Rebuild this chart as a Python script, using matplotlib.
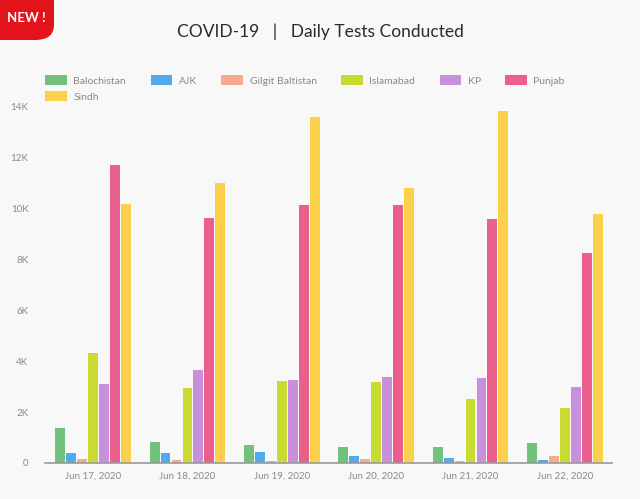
import numpy as np
import matplotlib
matplotlib.use('Agg')
import matplotlib.pyplot as plt
from matplotlib.patches import FancyBboxPatch

dates = ['Jun 17, 2020', 'Jun 18, 2020', 'Jun 19, 2020',
         'Jun 20, 2020', 'Jun 21, 2020', 'Jun 22, 2020']
regions = ['Balochistan', 'AJK', 'Gilgit Baltistan', 'Islamabad', 'KP', 'Punjab', 'Sindh']

balochistan = [1375, 825, 700, 630, 640, 770]
ajk = [390, 390, 430, 270, 200, 100]
gilgit = [160, 120, 80, 150, 80, 270]
islamabad = [4320, 2950, 3220, 3200, 2500, 2150]
kp = [3100, 3650, 3260, 3380, 3350, 3000]
punjab = [11720, 9630, 10140, 10140, 9580, 8270]
sindh = [10180, 11000, 13600, 10800, 13850, 9800]

colors = ['#72c27e', '#52a9ec', '#f8aa8e', '#c9da30', '#c98fda', '#eb5f8d', '#fdd04b']
bg = '#f8f8f8'

plt.rcParams['font.family'] = ['Lato', 'DejaVu Sans']

fig = plt.figure(figsize=(6.4, 4.99), dpi=100, facecolor=bg)
ax = fig.add_axes([45 / 640, 36 / 499, 567 / 640, 356 / 499])
ax.set_facecolor(bg)

series = [balochistan, ajk, gilgit, islamabad, kp, punjab, sindh]
x = np.arange(len(dates))
slot = 0.116
handles = []
for i, (vals, c) in enumerate(zip(series, colors)):
    b = ax.bar(x + (i - 3) * slot, vals, width=0.104, color=c, label=regions[i])
    handles.append(b)

ax.set_xlim(-0.51, 5.5)
ax.set_ylim(0, 14000)
ax.set_yticks(np.arange(0, 14001, 2000))
ax.set_yticklabels(['0'] + ['%dK' % v for v in range(2, 15, 2)])
ax.set_xticks(x)
ax.set_xticklabels(dates)
ax.tick_params(axis='both', length=0, labelsize=7, labelcolor='#8a8a8a')
ax.tick_params(axis='y', pad=12)
ax.tick_params(axis='x', pad=6)
for s in ['top', 'right', 'left']:
    ax.spines[s].set_visible(False)
ax.spines['bottom'].set_color('#9a9a9a')
ax.spines['bottom'].set_linewidth(1.2)

# legend: 6 columns, Sindh wraps to second row under Balochistan
order = [0, 6, 1, 2, 3, 4, 5]
fig.legend([handles[i] for i in order], [regions[i] for i in order],
           loc='upper left', bbox_to_anchor=(36 / 640, 1 - 66 / 499),
           ncol=6, frameon=False, fontsize=7.5, labelcolor='#8a8a8a',
           handlelength=2.1, handleheight=1.1, handletextpad=0.6,
           columnspacing=2.35, labelspacing=0.5)

fig.text(0.5, 1 - 32 / 499, 'COVID-19   |   Daily Tests Conducted',
         ha='center', va='center', fontsize=12.5, color='#2b2b2b')

# red "NEW !" badge in the corner
badge = FancyBboxPatch((-0.05, 1 - 40 / 499), 54 / 640 + 0.05, 0.12,
                       boxstyle='round,pad=0,rounding_size=0.03',
                       transform=fig.transFigure, facecolor='#e3131b',
                       edgecolor='none', clip_on=False)
fig.patches.append(badge)
fig.text(26 / 640, 1 - 18 / 499, 'NEW !', ha='center', va='center',
         fontsize=9.5, color='white', fontweight='bold')

fig.savefig('out.png', dpi=100, facecolor=bg)
